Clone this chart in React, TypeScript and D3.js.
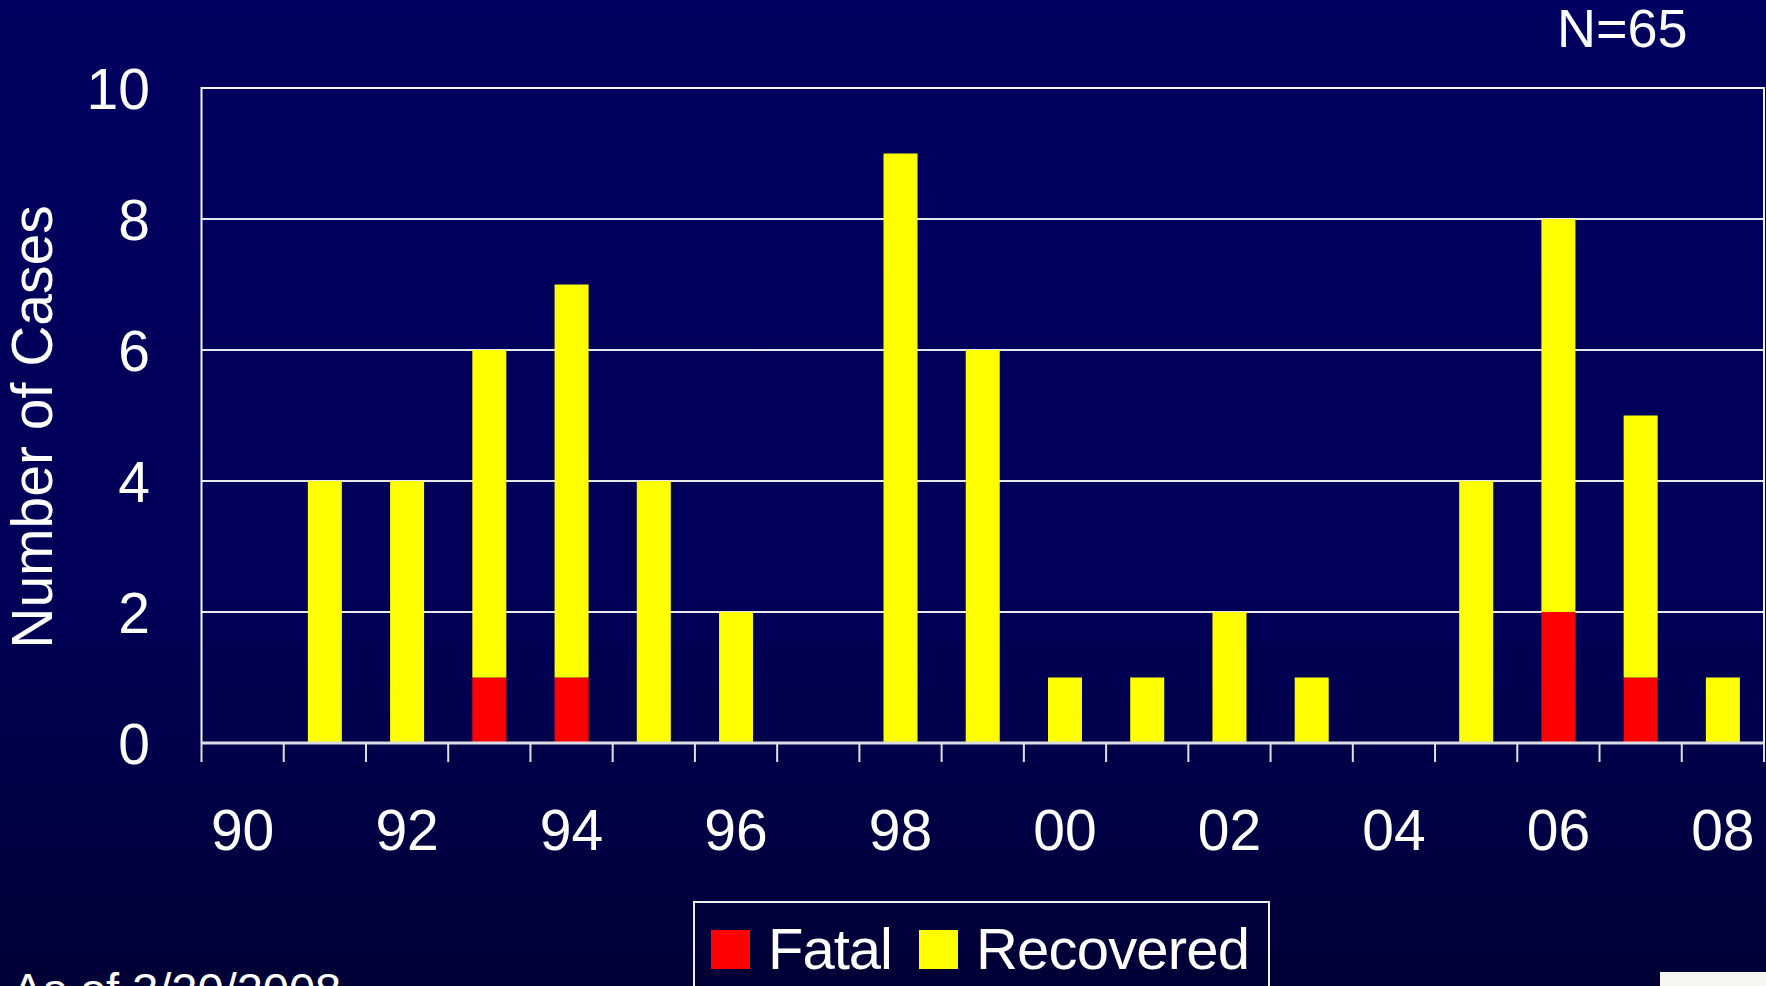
import { useEffect, useRef } from "react";
import * as d3 from "d3";

// ── Data ───────────────────────────────────────────────────────
const years = ["90", "91", "92", "93", "94", "95", "96", "97", "98", "99", "00", "01", "02", "03", "04", "05", "06", "07", "08"];
const fatal = [0, 0, 0, 1, 1, 0, 0, 0, 0, 0, 0, 0, 0, 0, 0, 0, 2, 1, 0];
const recovered = [0, 4, 4, 5, 6, 4, 2, 0, 9, 6, 1, 1, 2, 1, 0, 4, 6, 4, 1];
const yTicks = [0, 2, 4, 6, 8, 10];
const xLabels = ["90", "92", "94", "96", "98", "00", "02", "04", "06", "08"];
const seriesKeys = ["Fatal", "Recovered"];
const seriesColors = ["#ff0000", "#ffff00"];

const FONT = "'Liberation Sans', Arial, sans-serif";

export default function App() {
  const svgRef = useRef<SVGSVGElement>(null);

  useEffect(() => {
    document.body.style.margin = "0";
    if (!svgRef.current) return;
    const svg = d3.select(svgRef.current);
    svg.selectAll("*").remove();

    const width = 1766;
    const height = 986;
    const left = 201.5, right = 1764, top = 88, bottom = 743;

    // background gradient
    const defs = svg.append("defs");
    const grad = defs.append("linearGradient").attr("id", "bg").attr("x1", 0).attr("x2", 0).attr("y1", 0).attr("y2", 1);
    grad.append("stop").attr("offset", "0%").attr("stop-color", "#000060");
    grad.append("stop").attr("offset", "60%").attr("stop-color", "#000058");
    grad.append("stop").attr("offset", "100%").attr("stop-color", "#000036");
    svg.append("rect").attr("width", width).attr("height", height).attr("fill", "url(#bg)");

    // ── Scales ──
    const x = d3.scaleBand<string>().domain(years).range([left, right]).padding(0);
    const y = d3.scaleLinear().domain([0, 10]).range([bottom, top]);
    const barW = 34;

    // ── Grid + frame ──
    yTicks.filter((t) => t > 0 && t < 10).forEach((t) => {
      svg.append("line")
        .attr("x1", left).attr("x2", right)
        .attr("y1", y(t)).attr("y2", y(t))
        .attr("stroke", "#e8e8f0").attr("stroke-width", 2);
    });
    svg.append("path")
      .attr("d", `M${left},${bottom} V${y(10)} H${right} V${bottom}`)
      .attr("fill", "none").attr("stroke", "#f4f4f8").attr("stroke-width", 2);

    // ── Stacked bars ──
    const rows = years.map((yr, i) => ({ year: yr, Fatal: fatal[i], Recovered: recovered[i] }));
    const stacked = d3.stack<any>().keys(seriesKeys)(rows);
    stacked.forEach((layer, li) => {
      layer.forEach((seg) => {
        const h = y(seg[0]) - y(seg[1]);
        if (h <= 0) return;
        const yr = seg.data.year as string;
        svg.append("rect")
          .attr("x", x(yr)! + x.bandwidth() / 2 - barW / 2)
          .attr("y", y(seg[1]))
          .attr("width", barW)
          .attr("height", h)
          .attr("fill", seriesColors[li]);
      });
    });

    // ── X axis ──
    svg.append("line")
      .attr("x1", left).attr("x2", right)
      .attr("y1", bottom).attr("y2", bottom)
      .attr("stroke", "#dcdce4").attr("stroke-width", 3);
    const edges = years.map((yr) => x(yr)!).concat([right]);
    edges.forEach((ex) => {
      svg.append("line")
        .attr("x1", ex).attr("x2", ex)
        .attr("y1", bottom).attr("y2", bottom + 19)
        .attr("stroke", "#e0e0e8").attr("stroke-width", 2);
    });
    xLabels.forEach((lab) => {
      svg.append("text")
        .attr("x", x(lab)! + x.bandwidth() / 2)
        .attr("y", 850)
        .attr("text-anchor", "middle")
        .attr("font-family", FONT)
        .attr("font-size", 57)
        .attr("fill", "#ffffff")
        .text(lab);
    });

    // ── Y axis labels ──
    yTicks.forEach((t) => {
      svg.append("text")
        .attr("x", 150)
        .attr("y", y(t))
        .attr("dy", "0.36em")
        .attr("text-anchor", "end")
        .attr("font-family", FONT)
        .attr("font-size", 57)
        .attr("fill", "#ffffff")
        .text(t);
    });

    svg.append("text")
      .attr("transform", `translate(52,427) rotate(-90)`)
      .attr("text-anchor", "middle")
      .attr("font-family", FONT)
      .attr("font-size", 57)
      .attr("fill", "#ffffff")
      .text("Number of Cases");

    // ── N ──
    svg.append("text")
      .attr("x", 1557).attr("y", 46.5)
      .attr("font-family", FONT)
      .attr("font-size", 54)
      .attr("fill", "#ffffff")
      .text("N=65");

    // ── Legend ──
    svg.append("rect")
      .attr("x", 694).attr("y", 902)
      .attr("width", 575).attr("height", 120)
      .attr("fill", "none").attr("stroke", "#f0f0f4").attr("stroke-width", 2);
    const legendItems = [
      { key: seriesKeys[0], color: seriesColors[0], sx: 711, tx: 768, len: 125 },
      { key: seriesKeys[1], color: seriesColors[1], sx: 919, tx: 976, len: 274 },
    ];
    legendItems.forEach((it) => {
      svg.append("rect")
        .attr("x", it.sx).attr("y", 930)
        .attr("width", 39).attr("height", 39)
        .attr("fill", it.color);
      svg.append("text")
        .attr("x", it.tx).attr("y", 969)
        .attr("font-family", FONT)
        .attr("font-size", 58)
        .attr("textLength", it.len)
        .attr("lengthAdjust", "spacing")
        .attr("fill", "#ffffff")
        .text(it.key);
    });

    // ── Footnote ──
    svg.append("text")
      .attr("x", 12).attr("y", 1006)
      .attr("font-family", FONT)
      .attr("font-size", 47)
      .attr("fill", "#ffffff")
      .text("As of 3/20/2008");

    // corner patch
    svg.append("rect")
      .attr("x", 1660).attr("y", 972)
      .attr("width", 106).attr("height", 14)
      .attr("fill", "#f6f6f2");
  }, []);

  return <svg ref={svgRef} width={1766} height={986} style={{ display: "block" }} />;
}
